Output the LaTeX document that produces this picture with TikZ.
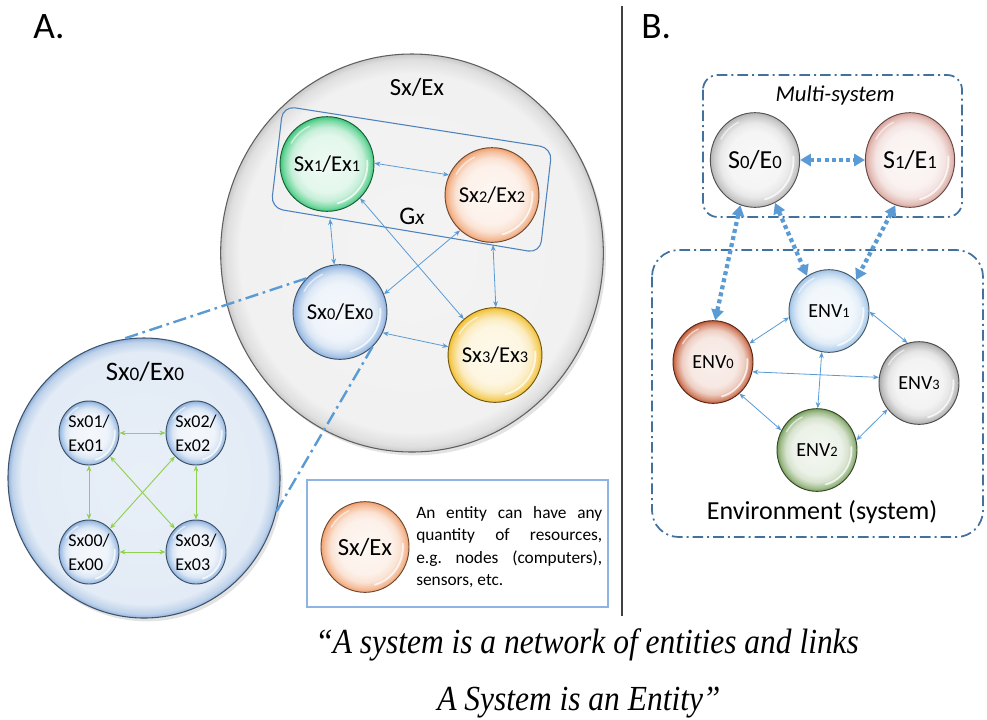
\documentclass[tikz,border=0pt]{standalone}
\usepackage{graphicx}
\usepackage{fontspec}
\setmainfont{Carlito}
\newfontfamily\quotefont{Liberation Serif}
\usetikzlibrary{shapes.geometric,arrows.meta,shadows,calc}

% palette
\definecolor{lnblue}{HTML}{5B9BD5}
\definecolor{boxblue}{HTML}{41719C}
\definecolor{gxblue}{HTML}{4F81BD}
\definecolor{lgreen}{HTML}{92D050}
\definecolor{legendbd}{HTML}{8EB4E3}
\definecolor{cgreen}{HTML}{3CC87A}
\definecolor{corange}{HTML}{F0A06E}
\definecolor{cblue}{HTML}{8AB0DE}
\definecolor{cyellow}{HTML}{F2BE2C}
\definecolor{cgray}{HTML}{B5B5B5}
\definecolor{cpink}{HTML}{D9A39B}
\definecolor{clblue}{HTML}{9DC3E6}
\definecolor{crust}{HTML}{C45A35}
\definecolor{cgraytwo}{HTML}{A8A8A8}
\definecolor{colive}{HTML}{78A05C}
\definecolor{discblue}{HTML}{7FA6D6}
\definecolor{discgray}{HTML}{BFBFBF}
\colorlet{sphc}{gray}

% glossy entity ball and flat disc, both tinted by sphc
% (the node outline sits at radius 25bp of the shading)
\pgfdeclareradialshading[sphc]{glossy}{\pgfpoint{0bp}{0bp}}{%
  color(0bp)=(sphc!9!white); color(15bp)=(sphc!14!white);
  color(19.5bp)=(sphc!30!white); color(23bp)=(sphc!68!white);
  color(25bp)=(sphc); color(50bp)=(sphc)}
\pgfdeclareradialshading[sphc]{disc}{\pgfpoint{0bp}{0bp}}{%
  color(0bp)=(sphc!18!white); color(22.5bp)=(sphc!22!white);
  color(24.3bp)=(sphc!50!white); color(25bp)=(sphc!85!white); color(50bp)=(sphc!85!white)}

\newcommand{\smdig}[1]{\scalebox{0.72}{#1}}

\tikzset{
  gloss/.style={path picture={
    \draw[white, line width=1.4pt, opacity=0.75, line cap=round]
      let \p1=($(path picture bounding box.north east)-(path picture bounding box.center)$) in
      ($(path picture bounding box.center)+(-75:0.86*\x1 and 0.86*\y1)$)
      arc[start angle=-75, end angle=5, x radius=0.86*\x1, y radius=0.86*\y1];
    \draw[white, line width=1pt, opacity=0.6, line cap=round]
      let \p1=($(path picture bounding box.north east)-(path picture bounding box.center)$) in
      ($(path picture bounding box.center)+(115:0.88*\x1 and 0.88*\y1)$)
      arc[start angle=115, end angle=150, x radius=0.88*\x1, y radius=0.88*\y1];
  }},
  sph/.style={ellipse, inner sep=0pt, /utils/exec={\colorlet{sphc}{#1}},
    shading=glossy, draw=sphc!45!black, line width=0.7pt, gloss,
    minimum width=67pt, minimum height=71pt, font=\fontsize{17}{20}\selectfont},
  bigdisc/.style={ellipse, inner sep=0pt, /utils/exec={\colorlet{sphc}{#1}},
    shading=disc, draw=sphc!50!black, line width=0.8pt,
    drop shadow={shadow xshift=2pt, shadow yshift=-2.5pt, opacity=0.22}},
  small/.style={sph=cblue, minimum width=45pt, minimum height=48pt,
    align=left, font=\fontsize{13.5}{18}\selectfont},
  envball/.style={sph=#1, minimum width=60pt, minimum height=62pt,
    font=\fontsize{15}{18}\selectfont},
  link/.style={<->, draw=lnblue, line width=0.6pt, >={Stealth[length=4.5pt,width=3.6pt]}},
  glink/.style={<->, draw=lgreen, line width=0.7pt, >={Stealth[length=4.5pt,width=3.6pt]}},
  dotlink/.style={{Triangle[length=8pt,width=9pt]}-{Triangle[length=8pt,width=9pt]},
    draw=lnblue, line width=3.2pt, dash pattern=on 3pt off 2.4pt},
  zoomline/.style={draw=lnblue, line width=1.8pt, dash pattern=on 10pt off 3.5pt on 2pt off 3.5pt},
  framebox/.style={draw=boxblue, line width=1.3pt, dash pattern=on 8pt off 3pt on 1.5pt off 3pt},
  heading/.style={anchor=base west, inner sep=0pt, font=\fontsize{28}{30}\selectfont},
  quote/.style={anchor=base west, inner sep=0pt, font=\quotefont\itshape\fontsize{23.6}{28}\selectfont},
}

\begin{document}
\begin{tikzpicture}[x=0.75pt,y=-0.75pt]
\useasboundingbox (0,0) rectangle (987,719);
\fill[white] (0,0) rectangle (987,719);

% headings and separator
\node[heading] (ha) at (33,38) {A.};
\node[heading] (hb) at (641,38) {B.};
\draw[black!75, line width=0.8pt] (622,6) -- (622,616);

% ---------- A: the entity Sx/Ex ----------
\node[bigdisc=discgray, minimum width=287pt, minimum height=298.5pt] (sx) at (412,253) {};
\node[font=\fontsize{18.5}{20}\selectfont] (sxlbl) at (417,87) {Sx/Ex};

% group Gx
\draw[gxblue, line width=0.8pt, rounded corners=9pt]
  (283,106) -- (552,148) -- (540,253) -- (271,208) -- cycle;
\node[font=\fontsize{19}{20}\selectfont] (gx) at (412,216) {G{\fontsize{16}{18}\selectfont\itshape x}};
\coordinate (gbl) at (330,219);
\coordinate (gbr) at (493,245);

\node[sph=cgreen] (s1) at (327,164) {Sx\smdig{1}/Ex\smdig{1}};
\node[sph=corange] (s2) at (492,195) {Sx\smdig{2}/Ex\smdig{2}};
\node[sph=cblue] (s0) at (340,312) {Sx\smdig{0}/Ex\smdig{0}};
\node[sph=cyellow] (s3) at (495,355) {Sx\smdig{3}/Ex\smdig{3}};

\draw[link] (s1.1) -- (s2.155);
\draw[link] (gbl) -- (s0.97);
\draw[link] (s1.-46) -- (s3.131);
\draw[link] (s2.228) -- (s0.22);
\draw[link] (gbr) -- (s3.89);
\draw[link] (s0.-26) -- (s3.170);

% ---------- A: inside Sx0/Ex0 ----------
\node[bigdisc=discblue, minimum width=204pt, minimum height=210pt] (bz) at (144,478) {};
\node[font=\fontsize{20}{22}\selectfont] (bzlbl) at (145,372) {Sx\smdig{0}/Ex\smdig{0}};

\node[small] (z1) at (89,433) {Sx01/\\Ex01};
\node[small] (z2) at (196,433) {Sx02/\\Ex02};
\node[small] (z0) at (89,552) {Sx00/\\Ex00};
\node[small] (z3) at (196,552) {Sx03/\\Ex03};

\draw[glink] (z1) -- (z2);
\draw[glink] (z0) -- (z3);
\draw[glink] (z1) -- (z0);
\draw[glink] (z2) -- (z3);
\draw[glink] (z1) -- (z3);
\draw[glink] (z2) -- (z0);

\draw[zoomline] (s0.135) -- (bz.99);
\draw[zoomline] (s0.-47) -- (bz.-14);

% legend
\node[draw=legendbd, line width=0.9pt, minimum width=225.75pt, minimum height=95.25pt,
  inner sep=0pt] (legend) at (457.5,543.5) {};
\node[sph=corange, minimum width=66pt, minimum height=68pt,
  font=\fontsize{18.5}{20}\selectfont] (lgc) at (365,547) {Sx/Ex};
\node[anchor=north west, inner sep=0pt, text width=139.5pt, align=justify,
  font=\fontsize{13}{16.9}\selectfont] (lgt) at (416,506)
  {An entity can have any\linebreak quantity of resources,\linebreak
   e.g.\ nodes (computers),\linebreak sensors, etc.};

% ---------- B: multi-system and environment ----------
\draw[framebox, rounded corners=11pt] (703,75) rectangle (962,217);
\draw[framebox, rounded corners=20pt] (652,250) rectangle (983,537);

\node[font=\itshape\fontsize{17}{20}\selectfont] (ms) at (835,95) {Multi-system};
\node[sph=cgray, font=\fontsize{19.5}{22}\selectfont] (m0) at (755,160) {S\smdig{0}/E\smdig{0}};
\node[sph=cpink, font=\fontsize{19.5}{22}\selectfont] (m1) at (910,160) {S\smdig{1}/E\smdig{1}};

\node[envball=clblue] (v1) at (829,311) {ENV\smdig{1}};
\node[envball=crust] (v0) at (713,362) {ENV\smdig{0}};
\node[envball=cgraytwo] (v3) at (919,383) {ENV\smdig{3}};
\node[envball=colive] (v2) at (817,450) {ENV\smdig{2}};
\node[font=\fontsize{19.5}{22}\selectfont] (envlbl) at (822,512) {Environment (system)};

\draw[dotlink] (m0) -- (m1);
\draw[dotlink] (m0.252) -- (v0.87);
\draw[dotlink] (m0.-65) -- (v1.122);
\draw[dotlink] (m1.252) -- (v1.49);

\draw[link] (v0.27) -- (v1.189);
\draw[link] (v1.-1) -- (v3.106);
\draw[link] (v0.-14) -- (v3.172);
\draw[link] (v1.260) -- (v2.89);
\draw[link] (v0.-50) -- (v2.151);
\draw[link] (v2.14) -- (v3.220);

% ---------- motto ----------
\node[quote] (q1) at (315,653) {\scalebox{1}[1.12]{“A system is a network of entities and links}};
\node[quote] (q2) at (437,710) {\scalebox{1}[1.12]{A System is an Entity”}};
\end{tikzpicture}
\end{document}
